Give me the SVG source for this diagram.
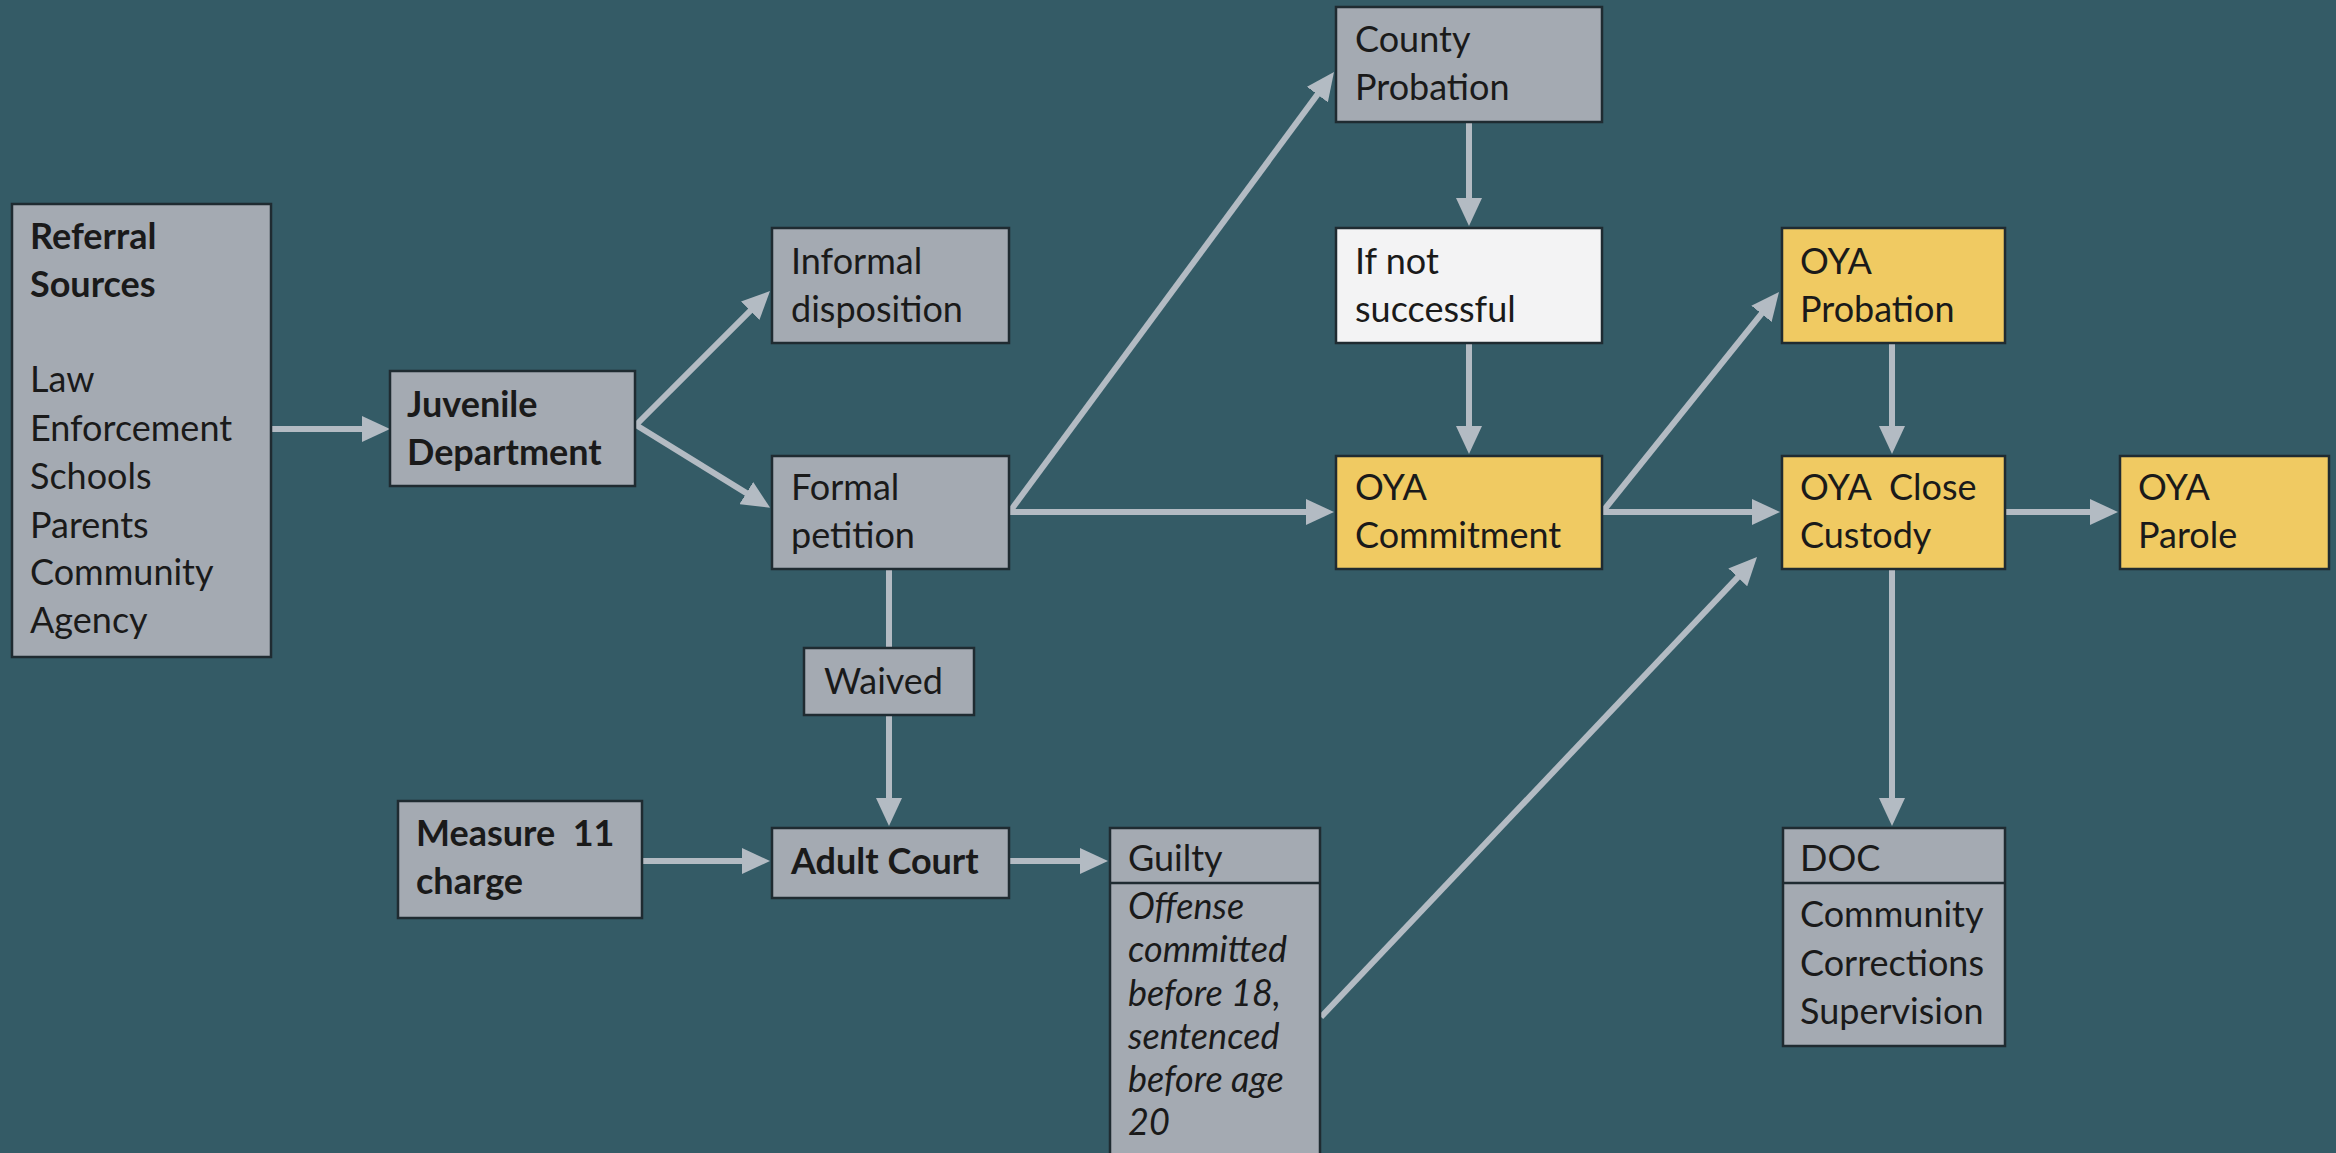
<svg xmlns="http://www.w3.org/2000/svg" width="2336" height="1153" viewBox="0 0 2336 1153">
<style>
.bg{fill:#345b66}
.box{stroke:#1f2b31;stroke-width:2.5}
.g{fill:#a4aab2}
.y{fill:#f0ca62}
.w{fill:#f3f3f4}
.t{font-family:Lato,"Open Sans","Liberation Sans",sans-serif;font-size:36px;fill:#1a1a1a}
.b{font-weight:bold}
.i{font-style:italic}
.c{stroke:#b3bbc3;stroke-width:6;fill:none}
.ca{marker-end:url(#ah)}
</style>
<defs>
<marker id="ah" viewBox="0 0 28 26" refX="13" refY="13" markerWidth="28" markerHeight="26" markerUnits="userSpaceOnUse" orient="auto">
<path d="M0,0 L28,13 L0,26 z" fill="#b3bbc3"/>
</marker>
</defs>
<rect class="bg" x="0" y="0" width="2336" height="1153"/>

<g id="connectors">
<line class="c ca" x1="271" y1="429" x2="375" y2="429"/>
<line class="c ca" x1="636" y1="425" x2="759.4" y2="301.6"/>
<line class="c ca" x1="636" y1="425" x2="757.4" y2="499.9"/>
<line class="c ca" x1="1011" y1="510" x2="1325.1" y2="84.1"/>
<line class="c ca" x1="1009" y1="512" x2="1319" y2="512"/>
<line class="c ca" x1="1469" y1="122" x2="1469" y2="211"/>
<line class="c ca" x1="1469" y1="343" x2="1469" y2="439"/>
<line class="c ca" x1="1604" y1="510" x2="1769.6" y2="303.7"/>
<line class="c ca" x1="1602" y1="512" x2="1765" y2="512"/>
<line class="c ca" x1="1892" y1="343" x2="1892" y2="439"/>
<line class="c ca" x1="2005" y1="512" x2="2103" y2="512"/>
<line class="c ca" x1="1892" y1="569" x2="1892" y2="811"/>
<line class="c" x1="889" y1="569" x2="889" y2="648"/>
<line class="c ca" x1="889" y1="715" x2="889" y2="811"/>
<line class="c ca" x1="642" y1="861" x2="755" y2="861"/>
<line class="c ca" x1="1009" y1="861" x2="1093" y2="861"/>
<line class="c ca" x1="1321" y1="1017" x2="1746.7" y2="567.9"/>
</g>

<g id="referral">
<rect class="box g" x="12" y="204" width="259" height="453"/>
<text class="t b" x="30" y="249">Referral</text>
<text class="t b" x="30" y="297">Sources</text>
<text class="t" x="30" y="392">Law</text>
<text class="t" x="30" y="441">Enforcement</text>
<text class="t" x="30" y="489">Schools</text>
<text class="t" x="30" y="538">Parents</text>
<text class="t" x="30" y="585">Community</text>
<text class="t" x="30" y="633">Agency</text>
</g>

<g id="juvenile">
<rect class="box g" x="390" y="371" width="245" height="115"/>
<text class="t b" x="407" y="417">Juvenile</text>
<text class="t b" x="407" y="465">Department</text>
</g>

<g id="informal">
<rect class="box g" x="772" y="228" width="237" height="115"/>
<text class="t" x="791" y="274">Informal</text>
<text class="t" x="791" y="322">disposition</text>
</g>

<g id="formal">
<rect class="box g" x="772" y="456" width="237" height="113"/>
<text class="t" x="791" y="500">Formal</text>
<text class="t" x="791" y="548">petition</text>
</g>

<g id="waived">
<rect class="box g" x="804" y="648" width="170" height="67"/>
<text class="t" x="824" y="694">Waived</text>
</g>

<g id="measure11">
<rect class="box g" x="398" y="801" width="244" height="117"/>
<text class="t b" x="416" y="846" xml:space="preserve">Measure  11</text>
<text class="t b" x="416" y="894">charge</text>
</g>

<g id="adultcourt">
<rect class="box g" x="772" y="828" width="237" height="70"/>
<text class="t b" x="791" y="874">Adult Court</text>
</g>

<g id="guilty">
<rect class="box g" x="1110" y="828" width="210" height="340"/>
<line class="box" x1="1110" y1="883" x2="1320" y2="883"/>
<text class="t" x="1128" y="871">Guilty</text>
<text class="t i" x="1128" y="919">Offense</text>
<text class="t i" x="1128" y="962">committed</text>
<text class="t i" x="1128" y="1006">before 18,</text>
<text class="t i" x="1128" y="1049">sentenced</text>
<text class="t i" x="1128" y="1092">before age</text>
<text class="t i" x="1128" y="1135">20</text>
</g>

<g id="countyprobation">
<rect class="box g" x="1336" y="7" width="266" height="115"/>
<text class="t" x="1355" y="52">County</text>
<text class="t" x="1355" y="100">Probation</text>
</g>

<g id="ifnot">
<rect class="box w" x="1336" y="228" width="266" height="115"/>
<text class="t" x="1355" y="274">If not</text>
<text class="t" x="1355" y="322">successful</text>
</g>

<g id="oyacommitment">
<rect class="box y" x="1336" y="456" width="266" height="113"/>
<text class="t" x="1355" y="500">OYA</text>
<text class="t" x="1355" y="548">Commitment</text>
</g>

<g id="oyaprobation">
<rect class="box y" x="1782" y="228" width="223" height="115"/>
<text class="t" x="1800" y="274">OYA</text>
<text class="t" x="1800" y="322">Probation</text>
</g>

<g id="oyaclosecustody">
<rect class="box y" x="1782" y="456" width="223" height="113"/>
<text class="t" x="1800" y="500" xml:space="preserve">OYA  Close</text>
<text class="t" x="1800" y="548">Custody</text>
</g>

<g id="oyaparole">
<rect class="box y" x="2120" y="456" width="209" height="113"/>
<text class="t" x="2138" y="500">OYA</text>
<text class="t" x="2138" y="548">Parole</text>
</g>

<g id="doc">
<rect class="box g" x="1783" y="828" width="222" height="218"/>
<line class="box" x1="1783" y1="883" x2="2005" y2="883"/>
<text class="t" x="1800" y="871">DOC</text>
<text class="t" x="1800" y="927">Community</text>
<text class="t" x="1800" y="976">Corrections</text>
<text class="t" x="1800" y="1024">Supervision</text>
</g>
</svg>
